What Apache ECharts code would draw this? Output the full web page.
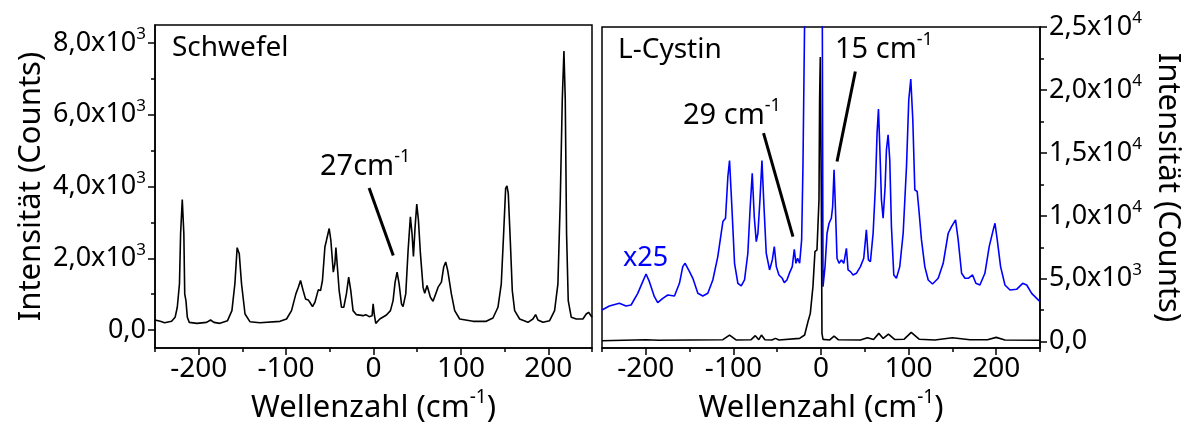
<!DOCTYPE html>
<html>
<head>
<meta charset="utf-8">
<script src="https://cdn.jsdelivr.net/npm/echarts@6/dist/echarts.min.js"></script>
<style>html,body{margin:0;padding:0;background:#fff}#main{width:1190px;height:427px}</style>
</head>
<body>
<div id="main"></div>
<script>
// Schwefel spectrum (counts)
var schwefelX = [-250,-244,-239,-231,-227,-224.5,-222,-220.7,-218.8,-217,-216,-214.6,-213,-210.8,-202,-191,-186.4,-182.6,-175.7,-167,-162,-158.6,-156,-153.6,-151,-147,-141.4,-130,-107,-99.5,-93.8,-88.8,-86,-83.5,-80.5,-77.8,-74.7,-72.8,-69.8,-67,-63.2,-60.6,-58.4,-55.6,-53.8,-50.7,-48.8,-46,-44.2,-43,-41.6,-39.3,-36.6,-34,-31,-28.4,-26,-23.4,-19.5,-11.9,-8.8,-5,-1.6,-0.4,0.8,2.6,7.2,14.8,19.4,22.4,24.7,27,29.3,32,33.8,36.9,39.6,42.2,44.1,45.7,47.6,49.5,51.4,53.7,56.7,58.6,61.3,63.2,65.1,68.1,71.2,73.9,77.7,80.3,82.6,84.9,89.1,92.9,98.6,113.9,129,136.7,142.4,146.2,148.9,151.2,152.7,154.2,156.5,158.8,161.5,167.2,176.7,182.4,185.5,188.1,193.9,201.5,207.2,211,213.7,216,217.9,219.4,220.9,222.8,226.3,232,239.6,243.4,246.1,250];
var schwefelY = [280,243,205,243,355,635,1290,2690,3640,2690,1010,820,355,215,187,215,280,215,187,261,541,1290,2296,2128,1290,448,233,205,243,308,541,1008,1195,1381,1101,868,840,775,653,775,1120,1101,1381,2315,2502,2830,2502,1615,1848,2296,1848,1101,635,635,1008,1475,1101,541,429,401,429,373,401,728,448,187,308,420,541,821,1335,1615,1288,728,653,1008,2222,3155,2688,2054,2875,3510,3062,2128,1195,1027,1242,1195,915,803,1008,1195,1335,1755,1895,1662,1008,541,308,243,243,336,635,1288,2688,3949,4014,3809,2502,1101,541,308,215,308,429,280,215,261,541,1288,3622,6422,7776,6422,2688,821,355,308,308,448,495,355];

// L-Cystin spectrum (counts)
var cystinX = [-250,-200,-185,-112,-104.4,-97,-80,-75,-71,-68,-64,-56,-52,-48,-24.4,-18.7,-14.9,-12.2,-9.2,-6.9,-4.6,-2.3,-1.6,-0.8,0.4,1.1,2.3,10,14.9,20,45,53,60,66,71,77,84,95,103,112,130,150,170,190,200,210,250];
var cystinY = [80,160,110,160,530,140,150,477,160,530,160,130,265,130,265,530,1590,2253,4374,7158,7290,11267,19220,22613,11267,663,186,140,450,150,140,320,170,663,260,610,180,200,742,200,140,320,150,160,345,140,110];

// L-Cystin, scaled x25 (as plotted)
var cystin25X = [-250,-241.6,-230.2,-222.6,-216.8,-209.2,-203.5,-199.7,-195.9,-190.2,-186.4,-180.6,-174.9,-167.3,-161.6,-157.8,-155.1,-150.1,-146.3,-140.6,-134.9,-129.2,-123.5,-117.8,-112,-109,-106.3,-104.4,-101.4,-98.7,-94.9,-91.1,-87.3,-83.5,-80.8,-78.5,-76.2,-73.9,-72,-69.7,-67.4,-65.1,-62.5,-58.7,-55.6,-53.3,-51,-48,-44.2,-41.9,-38.9,-35.8,-32.8,-30.5,-28.6,-26.7,-24.4,-22.1,-20.6,-18.7,-17,1,1.5,2.3,4.6,6.9,9.2,11.8,13.3,14.9,16.4,18.3,20.6,23.3,26,29,30.9,33.6,36.6,40.4,45,48.8,51.8,54.1,56.4,59.5,62.1,64,65.6,67.1,69,70.9,73.2,74.7,76.6,78.5,80.4,83.1,86.1,89.9,93.8,97.6,100.2,102.5,104.8,107.1,109.8,112.1,114.7,118.5,122.4,127.3,133.8,139.5,145.2,149,153.6,156.6,160.5,164.3,168.1,173,176.8,181.4,187.1,192,196.6,198.6,201.2,205,210,215.7,223.3,230.2,234.8,240.5,246.2,250];
var cystin25Y = [2518,2837,3049,2837,2916,3844,4772,5382,4772,3579,3102,3446,3711,3632,4639,5965,6230,5567,5037,3844,3632,3844,4904,6760,9544,9809,13122,14395,10206,6230,4639,4427,4904,7025,10737,13388,9941,7953,8616,11267,14395,10737,7025,5700,6495,7555,5965,5302,5037,4692,4904,5488,5965,7343,6230,6628,6230,8086,13918,25500,30000,30000,25500,4374,5965,8616,9411,9809,10737,13652,10737,6628,6230,6495,6230,7423,5700,5567,5302,5435,5965,6628,8881,6495,6362,8616,12327,16569,18478,15508,11267,9809,12327,15243,16436,14448,9146,5302,5037,5965,8616,13918,19220,20863,17629,12062,11930,10206,8086,5965,4904,4586,5037,6230,8616,9146,9676,8086,5435,5037,5037,5302,4639,4507,5435,7555,8881,9411,8086,5965,4507,4109,4162,4639,4507,3844,3446,3181];

var xTicks = [-200, -100, 0, 100, 200];
var xMinorTicks = [-250, -150, -50, 50, 150, 250];
var leftYTicks = [0, 2000, 4000, 6000, 8000];
var leftYMinor = [1000, 3000, 5000, 7000];
var rightYTicks = [0, 5000, 10000, 15000, 20000, 25000];
var rightYMinor = [2500, 7500, 12500, 17500, 22500];

// pointer lines for the annotations (data units)
var pointer27 = [[-5, 3960], [22.6, 2080]];
var pointer29 = [[-65.6, 16570], [-32, 8350]];
var pointer15 = [[39.2, 21460], [18.3, 14310]];

var FONT = '"Noto Sans", sans-serif';

function zip(xs, ys) {
	return xs.map(function(x, i) { return [x, ys[i]]; });
}

function sci(v) {
	if (v === 0) return '{a|0,0}';
	var e = Math.floor(Math.log10(v) + 1e-9);
	var m = (v / Math.pow(10, e)).toFixed(1).replace('.', ',');
	return '{a|' + m + 'x10}{s|' + e + '}';
}

var supRich = {
	a: { fontSize: 27, fontFamily: FONT, color: '#000', lineHeight: 34 },
	s: { fontSize: 17, fontFamily: FONT, color: '#000', verticalAlign: 'top', lineHeight: 17 }
};
var nameRich = {
	a: { fontSize: 31, fontFamily: FONT, color: '#000', lineHeight: 40 },
	s: { fontSize: 19, fontFamily: FONT, color: '#000', verticalAlign: 'top', lineHeight: 19 }
};
var noteRich = {
	a: { fontSize: 29, fontFamily: FONT, color: '#000', lineHeight: 38 },
	s: { fontSize: 18, fontFamily: FONT, color: '#000', verticalAlign: 'top', lineHeight: 18 }
};
var tickLine = { color: '#000', width: 1.5 };

function xAxes(grid) {
	return [{
		gridIndex: grid, type: 'value', min: -250, max: 250, position: 'bottom',
		axisLine: { show: true, onZero: false, lineStyle: tickLine },
		splitLine: { show: false },
		axisTick: { customValues: xTicks, length: 7, lineStyle: tickLine },
		axisLabel: { customValues: xTicks, fontSize: 28, fontFamily: FONT, color: '#000', margin: 7 },
		name: '{a|Wellenzahl (cm}{s|-1}{a|)}', nameLocation: 'middle', nameGap: 38,
		nameTextStyle: { rich: nameRich }
	}, {
		gridIndex: grid, type: 'value', min: -250, max: 250, position: 'bottom',
		axisLine: { show: false, onZero: false }, splitLine: { show: false },
		axisTick: { customValues: xMinorTicks, length: 4, lineStyle: tickLine },
		axisLabel: { show: false }
	}];
}

function yAxes(grid, side, min, max, major, minor, gap) {
	return [{
		gridIndex: grid, type: 'value', min: min, max: max, position: side,
		axisLine: { show: true, onZero: false, lineStyle: tickLine },
		splitLine: { show: false },
		axisTick: { customValues: major, length: 7, lineStyle: tickLine },
		axisLabel: { customValues: major, formatter: sci, rich: supRich, fontSize: 27, fontFamily: FONT, color: '#000', margin: 9 },
		name: 'Intensität (Counts)', nameLocation: 'middle', nameGap: gap,
		nameRotate: side === 'right' ? -90 : 90,
		nameTextStyle: { fontSize: 31, fontFamily: FONT, color: '#000' }
	}, {
		gridIndex: grid, type: 'value', min: min, max: max, position: side,
		axisLine: { show: false, onZero: false }, splitLine: { show: false },
		axisTick: { customValues: minor, length: 4, lineStyle: tickLine },
		axisLabel: { show: false }
	}];
}

function curve(data, xi, yi, color, width) {
	return {
		type: 'line', xAxisIndex: xi, yAxisIndex: yi, data: data,
		showSymbol: false, symbol: 'none', silent: true,
		lineStyle: { color: color, width: width }
	};
}

var chart = echarts.init(document.getElementById('main'));
var option = {
	animation: false,
	backgroundColor: '#fff',
	grid: [
		{ left: 155, top: 25, width: 437, height: 323, show: true, borderColor: '#000', borderWidth: 1.5, outerBoundsMode: 'none' },
		{ left: 602, top: 27, width: 438, height: 321, show: true, borderColor: '#000', borderWidth: 1.5, outerBoundsMode: 'none' }
	],
	xAxis: xAxes(0).concat(xAxes(1)),
	yAxis: yAxes(0, 'left', -500, 8500, leftYTicks, leftYMinor, 108)
		.concat(yAxes(1, 'right', -500, 25000, rightYTicks, rightYMinor, 112)),
	series: [
		curve(zip(schwefelX, schwefelY), 0, 0, '#000', 1.6),
		curve(pointer27, 0, 0, '#000', 3),
		curve(zip(cystin25X, cystin25Y), 2, 2, '#0000ff', 1.6),
		curve(zip(cystinX, cystinY), 2, 2, '#000', 1.6),
		curve(pointer29, 2, 2, '#000', 3),
		curve(pointer15, 2, 2, '#000', 3)
	],
	graphic: [
		{ type: 'text', x: 172, y: 48, style: { text: 'Schwefel', font: '28px ' + FONT, fill: '#000', verticalAlign: 'middle' } },
		{ type: 'text', x: 618, y: 50, style: { text: 'L-Cystin', font: '28px ' + FONT, fill: '#000', verticalAlign: 'middle' } },
		{ type: 'text', x: 320, y: 167, style: { text: '{a|27cm}{s|-1}', rich: noteRich, verticalAlign: 'middle' } },
		{ type: 'text', x: 683, y: 116, style: { text: '{a|29 cm}{s|-1}', rich: noteRich, verticalAlign: 'middle' } },
		{ type: 'text', x: 835, y: 50, style: { text: '{a|15 cm}{s|-1}', rich: noteRich, verticalAlign: 'middle' } },
		{ type: 'text', x: 623, y: 258, style: { text: 'x25', font: '27px ' + FONT, fill: '#0000ff', verticalAlign: 'middle' } }
	]
};
chart.setOption(option);
window.addEventListener('resize', chart.resize);
</script>
</body>
</html>
